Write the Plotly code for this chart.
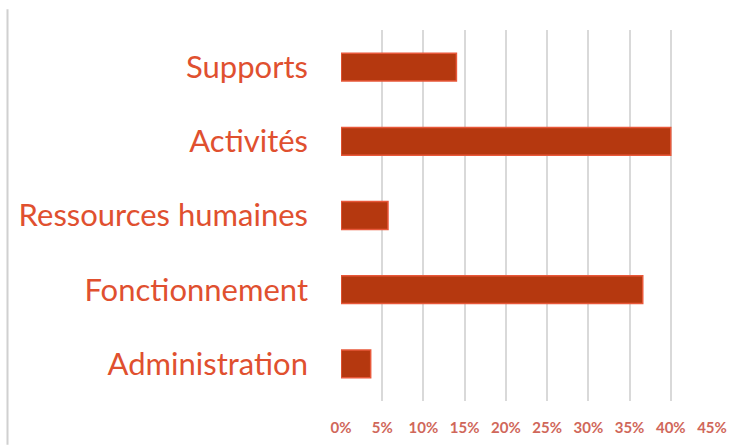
import plotly.graph_objects as go

categories = ["Administration", "Fonctionnement", "Ressources humaines", "Activités", "Supports"]
values = [0.036, 0.366, 0.057, 0.40, 0.14]
tick_vals = [0, 0.05, 0.10, 0.15, 0.20, 0.25, 0.30, 0.35, 0.40, 0.45]
tick_text = ["0%", "5%", "10%", "15%", "20%", "25%", "30%", "35%", "40%", "45%"]

fig = go.Figure(go.Bar(
    x=values, y=categories, orientation="h",
    marker=dict(color="#B5380F", line=dict(color="#E8583A", width=1.5)),
))

fig.update_layout(
    width=743, height=448,
    margin=dict(l=341, r=31, t=30, b=44),
    paper_bgcolor="white", plot_bgcolor="white",
    bargap=0.625,
    showlegend=False,
    font=dict(family="Lato, Open Sans, sans-serif"),
    shapes=[dict(type="line", xref="paper", yref="paper",
                 x0=-341/371 + 7.5/371, x1=-341/371 + 7.5/371, y0=-44/374, y1=(374+21)/374,
                 line=dict(color="#D0D0D0", width=2))],
)
fig.update_xaxes(
    range=[0, 0.45], tickvals=tick_vals, ticktext=tick_text,
    showgrid=True, gridcolor="#D9D9D9", gridwidth=2,
    zeroline=False, showline=False,
    tickfont=dict(size=15, color="#D0675A", family="Lato, sans-serif", weight="bold"),
    ticks="", ticklabelstandoff=16,
)
fig.update_yaxes(
    tickfont=dict(size=31, color="#E0502F", family="Lato, sans-serif"),
    showgrid=False, zeroline=False, showline=False, ticks="",
    ticklabelstandoff=32,
)

fig.write_html("out.html")
